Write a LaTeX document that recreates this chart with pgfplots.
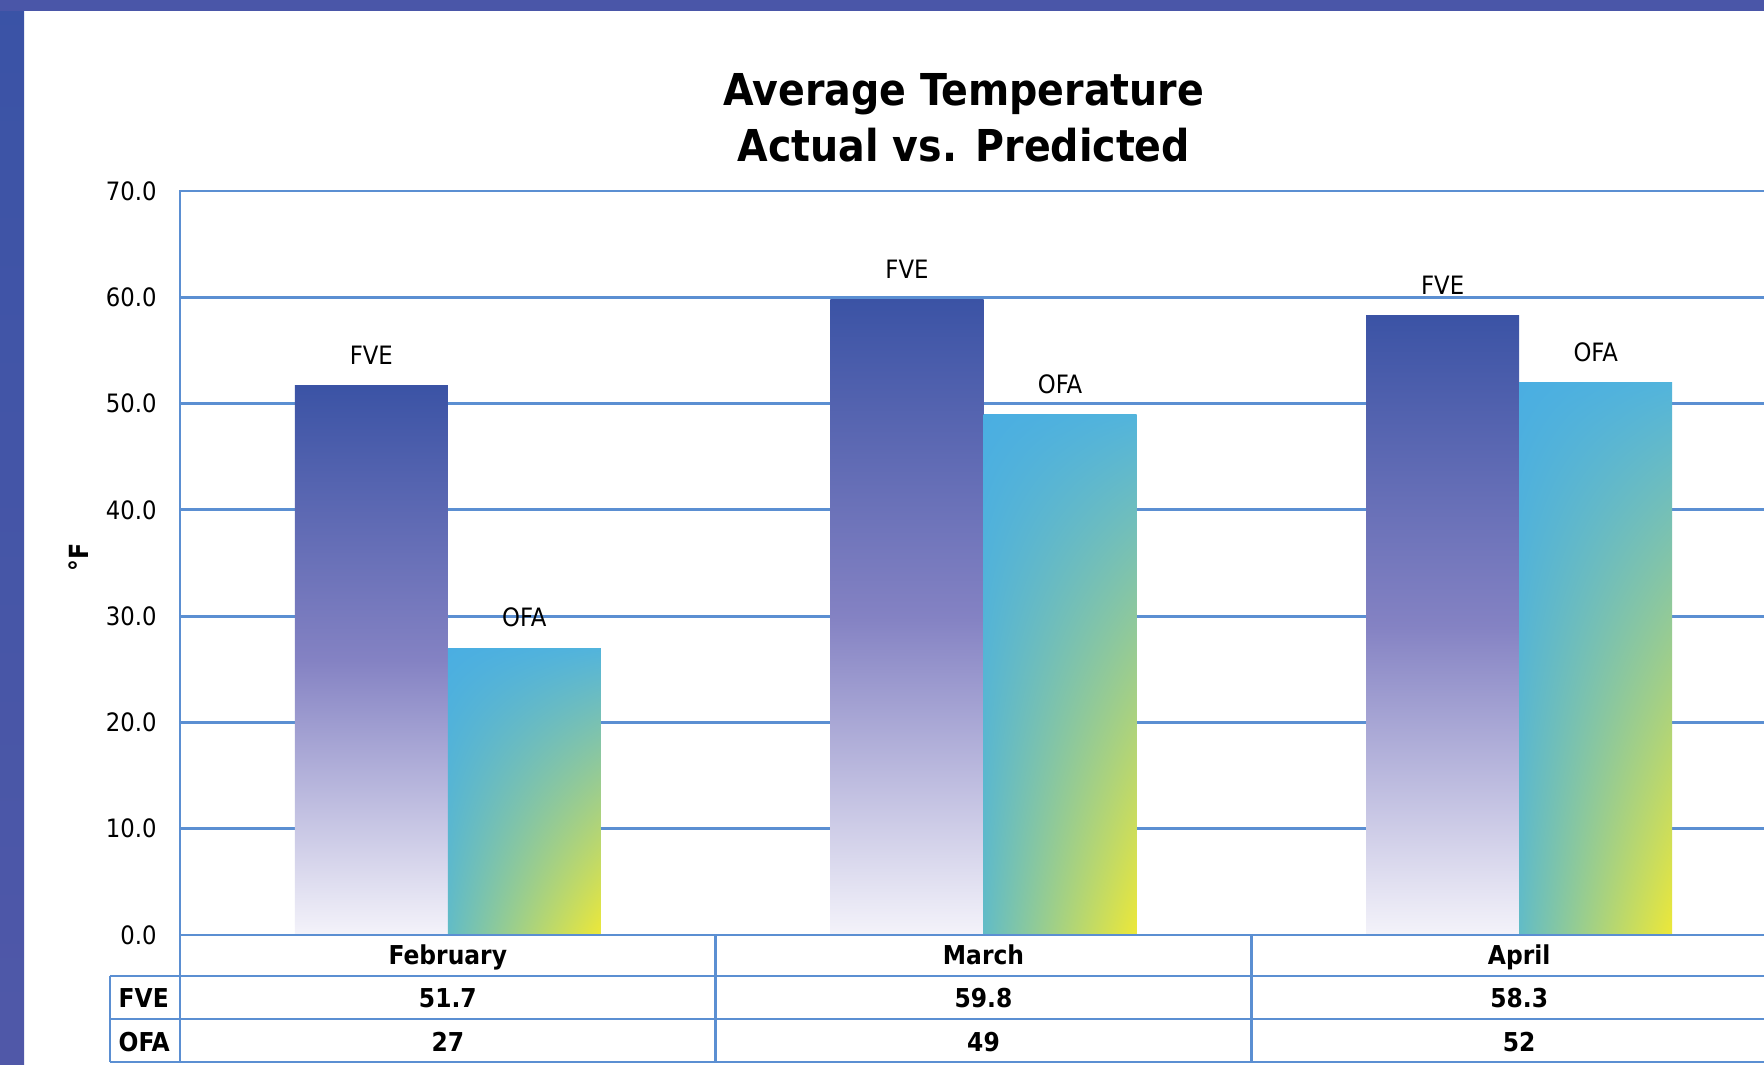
\documentclass[border=0pt]{standalone}
\usepackage{pgfplots}
\pgfplotsset{compat=1.18}
\usetikzlibrary{shadings}
\usepackage{fontspec}
\setmainfont{DejaVu Sans Condensed}
\definecolor{gridblue}{HTML}{5B8FD2}
\definecolor{stripetop}{HTML}{3A53A6}
\definecolor{stripebot}{HTML}{5058A8}
\definecolor{barblue}{HTML}{4A56A8}
\definecolor{fvetop}{HTML}{3B53A5}
\definecolor{fvemid}{HTML}{8482C3}
\definecolor{fvebot}{HTML}{F4F3FA}
\definecolor{ofaUL}{HTML}{4AAEE2}
\definecolor{ofaUR}{HTML}{52B4DC}
\definecolor{ofaLL}{HTML}{62BCC6}
\definecolor{ofaLR}{HTML}{EDE838}
\begin{document}
\begin{tikzpicture}
\path[use as bounding box, clip] (0,0) rectangle (17.64,10.64);
\fill[white] (0,0) rectangle (17.64,10.64);
\shade[top color=stripetop, bottom color=stripebot] (0,0) rectangle (0.24,10.64);
\fill[barblue] (0,10.53) rectangle (17.64,10.64);
\node[font=\bfseries\fontsize{12.5}{15.8}\selectfont, align=center] at (9.64,9.46) {Average Temperature\\Actual vs. Predicted};
\node[rotate=90, font=\bfseries\fontsize{7.5}{9}\selectfont] at (0.79,5.07) {°F};
\begin{axis}[
  at={(1.80cm,1.29cm)}, anchor=south west,
  scale only axis, width=16.07cm, height=7.44cm,
  xmin=-0.5, xmax=2.5, ymin=0, ymax=70,
  ytick={0,10,...,70}, xtick=\empty,
  ymajorgrids, grid style={gridblue, line width=0.8pt},
  axis line style={gridblue, line width=0.8pt},
  major tick length=0pt,
  /pgf/number format/assume math mode=true,
  yticklabel={\pgfmathprintnumber[fixed,fixed zerofill,precision=1]{\tick}},
  yticklabel style={font=\fontsize{7.2}{8}\selectfont, xshift=-0.11cm},
  ybar, bar shift=0pt, bar width=0.2857,
  clip=false,
  every node near coord/.append style={font=\fontsize{7.2}{8}\selectfont, black, anchor=south, inner sep=0pt, yshift=0.2cm},
  fve/.style={draw=none, top color=fvetop, bottom color=fvebot, middle color=fvemid, nodes near coords={FVE}},
  ofa/.style={draw=none, upper left=ofaUL, upper right=ofaUR, lower left=ofaLL, lower right=ofaLR, nodes near coords={OFA}},
]
% FVE (actual)
\addplot[fve] coordinates {(-0.142857,51.7)};
\addplot[fve] coordinates {(0.857143,59.8)};
\addplot[fve] coordinates {(1.857143,58.3)};
% OFA (predicted)
\addplot[ofa] coordinates {(0.142857,27)};
\addplot[ofa] coordinates {(1.142857,49)};
\addplot[ofa] coordinates {(2.142857,52)};
% table below the axis
\draw[gridblue, line width=0.8pt] (axis cs:-0.5,0) -- (axis cs:2.8,0);
\draw[gridblue, line width=0.8pt] (axis cs:-0.6307,-3.86) -- (axis cs:2.8,-3.86);
\draw[gridblue, line width=0.8pt] (axis cs:-0.6307,-7.90) -- (axis cs:2.8,-7.90);
\draw[gridblue, line width=0.8pt] (axis cs:-0.6307,-11.95) -- (axis cs:2.8,-11.95);
\draw[gridblue, line width=0.8pt] (axis cs:-0.6307,-3.86) -- (axis cs:-0.6307,-11.95);
\draw[gridblue, line width=0.8pt] (axis cs:-0.5,0) -- (axis cs:-0.5,-11.95);
\draw[gridblue, line width=0.8pt] (axis cs:0.5,0) -- (axis cs:0.5,-11.95);
\draw[gridblue, line width=0.8pt] (axis cs:1.5,0) -- (axis cs:1.5,-11.95);
\draw[gridblue, line width=0.8pt] (axis cs:2.5,0) -- (axis cs:2.5,-11.95);
\begin{scope}[every node/.style={font=\bfseries\fontsize{7.4}{9}\selectfont, anchor=base, inner sep=0pt}]
\node at (axis cs:0,-2.82) {February};
\node at (axis cs:1,-2.82) {March};
\node at (axis cs:2,-2.82) {April};
\node[anchor=base west] at (axis cs:-0.6157,-6.80) {FVE};
\node[anchor=base west] at (axis cs:-0.6157,-10.95) {OFA};
\node at (axis cs:0,-6.80) {51.7};
\node at (axis cs:1,-6.80) {59.8};
\node at (axis cs:2,-6.80) {58.3};
\node at (axis cs:0,-10.95) {27};
\node at (axis cs:1,-10.95) {49};
\node at (axis cs:2,-10.95) {52};
\end{scope}
\end{axis}
\end{tikzpicture}
\end{document}
